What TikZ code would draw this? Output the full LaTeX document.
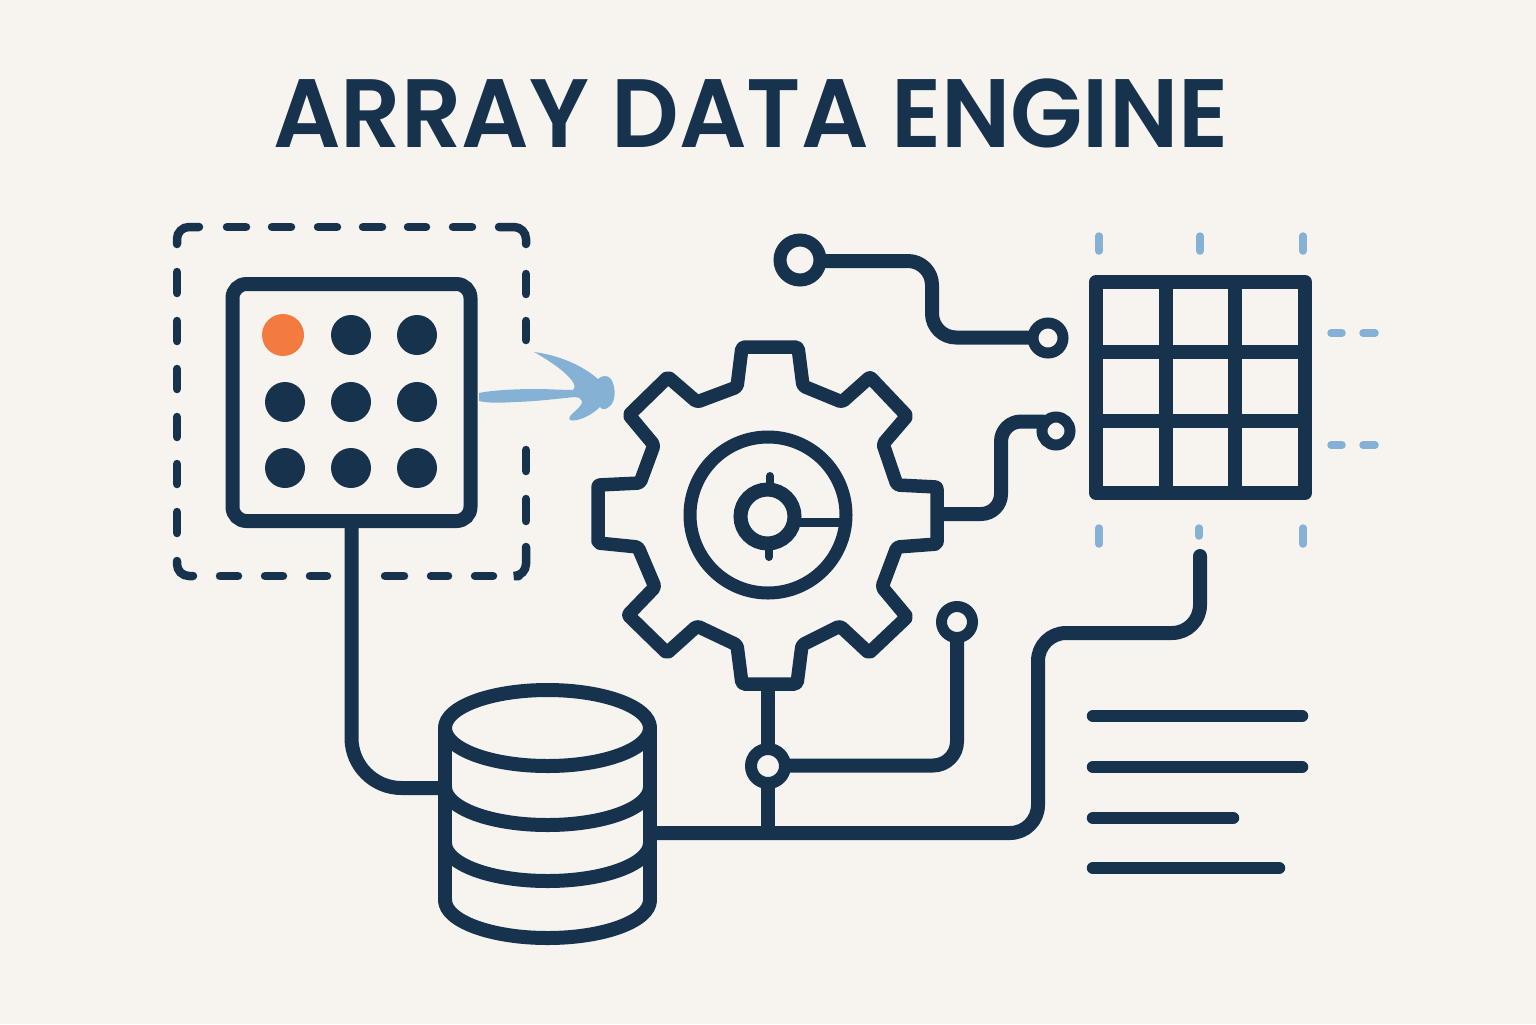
\documentclass[tikz,border=0pt]{standalone}
\usepackage{fontspec}
\newfontfamily\titlefont[FakeStretch=0.97]{Poppins SemiBold}
\definecolor{pagebg}{HTML}{F7F4F0}
\definecolor{navy}{HTML}{17324D}
\definecolor{skyblue}{HTML}{85B2D4}
\definecolor{dotorange}{HTML}{F47B3F}
\tikzset{
    line/.style={draw=navy, line width=7pt, line cap=round, line join=round},
    wire/.style={line, rounded corners=12pt},
    dashline/.style={draw=navy, line width=4.25pt, line cap=round, rounded corners=6pt},
    tick/.style={draw=skyblue, line width=3.75pt, line cap=round},
    griddot/.style={circle, fill=navy, minimum size=20pt, inner sep=0pt},
    terminal/.style={circle, draw=navy, fill=pagebg, line width=6pt, inner sep=0pt},
    panelbox/.style={draw=navy, line width=7pt, rounded corners=7pt, minimum width=119pt, minimum height=118.5pt, inner sep=0pt},
}

\begin{document}
\begin{tikzpicture}[x=0.5pt, y=-0.5pt]
    \path[fill=pagebg] (0, 0) rectangle (1536, 1024);
    \node[anchor=base, text=navy, inner sep=0pt, font=\titlefont\fontsize{48.6}{50}\selectfont] (title) at (751, 147) {ARRAY DATA ENGINE};

    \draw[dashline] (177, 244) -- (177, 227) -- (199, 227);
    \draw[dashline] (227, 227) -- (246, 227) (272, 227) -- (291, 227) (318, 227) -- (337, 227) (363, 227) -- (382, 227) (408, 227) -- (426, 227) (453, 227) -- (472, 227);
    \draw[dashline] (499, 227) -- (526, 227) -- (526, 244);
    \draw[dashline] (177, 272) -- (177, 293) (177, 321) -- (177, 341) (177, 369) -- (177, 389) (177, 417) -- (177, 437) (177, 464) -- (177, 484) (177, 512) -- (177, 533);
    \draw[dashline] (177, 561) -- (177, 576) -- (193, 576);
    \draw[dashline] (220, 576) -- (238, 576) (265, 576) -- (283, 576) (310, 576) -- (327, 576) (385, 576) -- (404, 576) (431, 576) -- (448, 576) (475, 576) -- (493, 576);
    \draw[dashline] (519, 576) -- (526, 576) -- (526, 547);
    \draw[dashline] (526, 274) -- (526, 294) (526, 321) -- (526, 340) (526, 450) -- (526, 471) (526, 499) -- (526, 521);

    \node[panelbox] (panel) at (351.5, 402.5) {};
    \node[griddot, fill=dotorange, minimum size=21pt] (dotA) at (283, 335) {};
    \node[griddot] (dotB) at (351, 335) {};
    \node[griddot] (dotC) at (417, 335) {};
    \node[griddot] (dotD) at (285, 402) {};
    \node[griddot] (dotE) at (351, 402) {};
    \node[griddot] (dotF) at (417, 402) {};
    \node[griddot] (dotG) at (285, 468) {};
    \node[griddot] (dotH) at (351, 468) {};
    \node[griddot] (dotI) at (417, 468) {};

    \fill[skyblue] (479, 393) .. controls (487, 391) and (510, 389) .. (535, 389)
        .. controls (550, 389) and (562, 390) .. (573, 390)
        .. controls (575, 388) and (575, 386) .. (574, 384)
        .. controls (570, 375) and (552, 362) .. (534, 352)
        .. controls (558, 355) and (582, 365) .. (598, 379)
        .. controls (602, 375) and (608, 375) .. (611, 379)
        .. controls (616, 387) and (616, 401) .. (610, 406)
        .. controls (606, 410) and (602, 410) .. (600, 407)
        .. controls (593, 414) and (582, 420) .. (573, 420.5)
        .. controls (568, 421) and (569, 417) .. (571, 415)
        .. controls (576, 410) and (583, 405) .. (582, 401)
        .. controls (581, 398) and (578, 397) .. (575, 397)
        .. controls (555, 399) and (535, 401.5) .. (515, 402)
        .. controls (500, 403) and (487, 403) .. (479, 401) -- cycle;

    \coordinate (dbLeft) at (445, 788);
    \coordinate (dbRight) at (650, 833);
    \coordinate (gearEast) at (937, 514);
    \coordinate (gearSouth) at (768, 684);
    \coordinate (busJoin) at (768, 830);
    \coordinate (wireEnd) at (1200, 556);
    \coordinate (termEntry) at (1043, 421.5);

    \draw[wire, rounded corners=25pt] (panel.south) |- (dbLeft);
    \draw[line] (gearSouth) -- (busJoin);
    \draw[wire, rounded corners=14pt] (dbRight) -- (1038, 833) -- (1038, 633) -- (1200, 633) -- (wireEnd);
    \draw[wire] (800, 261) -- (932, 261) -- (932, 337.5) -- (1048, 337.5);
    \draw[wire, rounded corners=10pt] (gearEast) -- (1001, 514) -- (1001, 421.5) -- (termEntry);
    \draw[wire] (768, 765.5) -- (957, 765.5) -- (957, 622);

    \node[terminal, line width=6.5pt, minimum size=20pt] (termA) at (800, 260) {};
    \node[terminal, line width=5.5pt, minimum size=15pt] (termB) at (1048, 338) {};
    \node[terminal, line width=5.5pt, minimum size=14pt] (termC) at (1056, 431) {};
    \node[terminal, minimum size=17pt] (termD) at (768, 766) {};
    \node[terminal, line width=5.5pt, minimum size=15.5pt] (termE) at (957, 622) {};

    \draw[line, line width=6.75pt, rounded corners=1pt, fill=pagebg] (742, 347) -- (798, 347) -- (803, 386) -- (842, 402) -- (870, 377) -- (907, 416) -- (883, 444) -- (897, 485) -- (937, 487) -- (937, 544) -- (897, 547) -- (882, 587) -- (907, 617) -- (869, 653) -- (840, 626) -- (802, 645) -- (797, 684) -- (742, 684) -- (737, 645) -- (697, 626) -- (667, 653) -- (628, 615) -- (655, 587) -- (638, 547) -- (598, 543) -- (598, 485) -- (640, 483) -- (654, 445) -- (629, 415) -- (668, 377) -- (697, 402) -- (737, 387) -- cycle;

    \node[circle, draw=navy, line width=6.5pt, minimum size=78pt, inner sep=0pt] (ring) at (768, 515) {};
    \node[circle, draw=navy, line width=7pt, minimum size=27pt, inner sep=0pt] (hub) at (767.5, 516.5) {};
    \draw[navy, line width=4pt, line cap=round] (770, 476) -- (770, 490) (769, 545) -- (769, 557);
    \draw[navy, line width=4.75pt] (795, 522.5) -- (842, 522.5);

    \draw[line] (445, 728) -- (445, 900) (650, 728) -- (650, 900);
    \draw[line] (547.5, 728) ellipse [x radius=51.25pt, y radius=19pt];
    \draw[line] (445, 787) arc [start angle=180, end angle=360, x radius=51.25pt, y radius=19pt];
    \draw[line] (445, 843) arc [start angle=180, end angle=360, x radius=51.25pt, y radius=19pt];
    \draw[line] (445, 900) arc [start angle=180, end angle=360, x radius=51.25pt, y radius=19pt];

    \draw[line] (1096, 282) rectangle (1305, 493);
    \draw[line, line cap=butt] (1166, 282) -- (1166, 493) (1235, 282) -- (1235, 493) (1096, 352) -- (1305, 352) (1096, 421) -- (1305, 421);

    \draw[tick] (1099, 236) -- (1099, 251) (1200, 236) -- (1200, 251) (1303, 236) -- (1303, 251);
    \draw[tick] (1099, 528) -- (1099, 544) (1199, 528) -- (1199, 536) (1303, 528) -- (1303, 544);
    \draw[tick] (1331, 333) -- (1342, 333) (1363, 333) -- (1375, 333) (1331, 445) -- (1342, 445) (1363, 445) -- (1375, 445);

    \draw[line, line width=6.25pt] (1093, 716) -- (1302, 716);
    \draw[line, line width=6.25pt] (1093, 767) -- (1302, 767);
    \draw[line, line width=6.25pt] (1093, 818) -- (1233, 818);
    \draw[line, line width=6.25pt] (1093, 868) -- (1279, 868);
\end{tikzpicture}
\end{document}
